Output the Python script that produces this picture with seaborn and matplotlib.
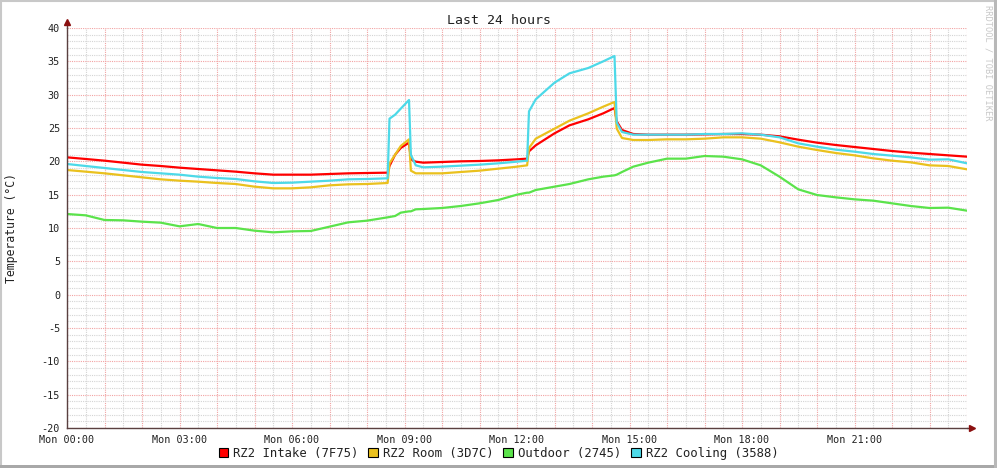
import matplotlib
matplotlib.use("Agg")
import matplotlib.pyplot as plt
from matplotlib.patches import Patch, Rectangle
from matplotlib.ticker import MultipleLocator, FuncFormatter
import pandas as pd
import seaborn as sns

# ── Data (hours since Mon 00:00, temperatures in °C) ─────────────────────
hours = [0, 0.5, 1, 1.5, 2, 2.5, 3, 3.5, 4, 4.5, 5, 5.5, 6, 6.5, 7, 7.5, 8,
         8.55, 8.6, 8.75, 8.9, 9.12, 9.17, 9.3, 9.5, 10, 10.5, 11, 11.5, 12,
         12.27, 12.32, 12.5, 13, 13.4, 13.9, 14.3, 14.6, 14.66, 14.8, 15.1,
         15.5, 16, 16.5, 17, 17.5, 18, 18.5, 19, 19.5, 20, 20.5, 21, 21.5,
         22, 22.5, 23, 23.5, 24]

intake = [20.6, 20.35, 20.1, 19.8, 19.5, 19.3, 19.05, 18.85, 18.65, 18.45,
          18.2, 18.0, 18.0, 18.0, 18.1, 18.2, 18.25,
          18.3, 19.3, 21.0, 22.0, 22.8, 20.3, 19.95, 19.8, 19.9, 20.0, 20.05,
          20.15, 20.3,
          20.4, 21.5, 22.4, 24.2, 25.4, 26.3, 27.2, 28.0, 26.0, 24.7, 24.1,
          24.0, 24.0, 24.0, 24.05, 24.1, 24.1, 24.0, 23.75, 23.25, 22.8, 22.45,
          22.15, 21.85, 21.55, 21.3, 21.1, 20.9, 20.7]

room = [18.7, 18.45, 18.2, 17.9, 17.6, 17.3, 17.1, 16.95, 16.75, 16.6,
        16.2, 15.95, 15.95, 16.1, 16.4, 16.55, 16.6,
        16.75, 19.7, 21.0, 22.3, 23.3, 18.6, 18.2, 18.2, 18.2, 18.4, 18.6,
        18.9, 19.2,
        19.4, 22.0, 23.4, 24.9, 26.1, 27.2, 28.2, 28.9, 24.9, 23.5, 23.2,
        23.2, 23.3, 23.3, 23.4, 23.6, 23.6, 23.4, 22.85, 22.2, 21.7, 21.25,
        20.9, 20.45, 20.1, 19.85, 19.4, 19.3, 18.8]

outdoor = [12.1, 11.9, 11.2, 11.15, 10.95, 10.8, 10.25, 10.6, 10.0, 10.0,
           9.6, 9.35, 9.5, 9.55, 10.2, 10.85, 11.1,
           11.6, 11.65, 11.8, 12.3, 12.5, 12.5, 12.8, 12.85, 13.0, 13.3, 13.7,
           14.2, 15.0,
           15.3, 15.3, 15.7, 16.2, 16.6, 17.3, 17.7, 17.9, 18.0, 18.4, 19.2,
           19.8, 20.4, 20.4, 20.8, 20.7, 20.3, 19.4, 17.7, 15.8, 14.95, 14.6,
           14.3, 14.1, 13.7, 13.3, 13.0, 13.05, 12.6]

cooling = [19.6, 19.3, 19.0, 18.7, 18.4, 18.2, 18.0, 17.7, 17.5, 17.35,
           17.0, 16.75, 16.8, 16.95, 17.1, 17.3, 17.35,
           17.45, 26.4, 27.0, 27.9, 29.2, 21.0, 19.4, 19.1, 19.2, 19.35, 19.5,
           19.7, 19.95,
           20.1, 27.5, 29.3, 31.8, 33.2, 34.0, 35.0, 35.8, 25.8, 24.4, 24.0,
           24.0, 24.0, 24.0, 24.1, 24.1, 24.2, 24.0, 23.6, 22.7, 22.2, 21.75,
           21.45, 21.1, 20.85, 20.6, 20.25, 20.3, 19.7]

series_names = ["RZ2 Intake (7F75)", "RZ2 Room (3D7C)",
                "Outdoor (2745)", "RZ2 Cooling (3588)"]
series_colors = ["#FF0000", "#EAC11E", "#5BE34B", "#4DD9E8"]

# ── Style ─────────────────────────────────────────────────────────────────
sns.set_style("white")
plt.rcParams["font.family"] = ["DejaVu Sans Mono"]
plt.rcParams["axes.unicode_minus"] = False

df = pd.DataFrame({"hour": hours,
                   series_names[0]: intake, series_names[1]: room,
                   series_names[2]: outdoor, series_names[3]: cooling})
long_df = df.melt(id_vars="hour", var_name="series", value_name="temp")

fig = plt.figure(figsize=(9.97, 4.68), dpi=100)
fig.patch.set_facecolor("white")
ax = fig.add_axes([67/997, 40/468, 900/997, 400/468])

sns.lineplot(data=long_df, x="hour", y="temp", hue="series",
             hue_order=series_names, palette=series_colors,
             estimator=None, sort=False, lw=1.6, legend=False, ax=ax)

ax.set_xlim(0, 24)
ax.set_ylim(-20, 40)

# grid: red major, grey minor, both dotted
ax.xaxis.set_major_locator(MultipleLocator(1))
ax.xaxis.set_minor_locator(MultipleLocator(0.5))
ax.yaxis.set_major_locator(MultipleLocator(5))
ax.yaxis.set_minor_locator(MultipleLocator(1))
ax.xaxis.set_major_formatter(FuncFormatter(
    lambda v, p: f"Mon {int(round(v)):02d}:00" if round(v) % 3 == 0 and v < 23.5 else ""))
ax.yaxis.set_major_formatter(FuncFormatter(lambda v, p: f"{v:g}"))
ax.grid(which="minor", color="#d4d4d4", ls=(0, (1, 1)), lw=0.8)
ax.grid(which="major", color="#f2a3a3", ls=(0, (1, 1)), lw=0.8)
ax.set_axisbelow(True)

ax.tick_params(which="major", length=2, width=0.8, color="#7a5a5a",
               labelsize=7.3, labelcolor="#222222", pad=3)
ax.tick_params(which="minor", length=0)
ax.set_xlabel("")
ax.set_ylabel("")
for s in ["top", "right"]:
    ax.spines[s].set_visible(False)
for s in ["left", "bottom"]:
    ax.spines[s].set_color("#5a4040")
    ax.spines[s].set_linewidth(1.0)

# axis extensions with arrow heads
ax.plot([1, 1.006], [0, 0], color="#5a4040", lw=1.0, transform=ax.transAxes, clip_on=False)
ax.plot([0, 0], [1, 1.014], color="#5a4040", lw=1.0, transform=ax.transAxes, clip_on=False)
ax.plot([1.006], [0], marker=">", ms=4, color="#8b1010", transform=ax.transAxes, clip_on=False)
ax.plot([0], [1.014], marker="^", ms=4, color="#8b1010", transform=ax.transAxes, clip_on=False)

# texts
fig.text(0.5, 1 - 20/468, "Last 24 hours", ha="center", va="center",
         fontsize=9.5, color="#222222")
fig.text(11/997, 1 - 228/468, "Temperature (°C)", rotation=90,
         ha="center", va="center", fontsize=8.3, color="#222222")
fig.text(988/997, 1 - 5/468, "RRDTOOL / TOBI OETIKER", rotation=270,
         ha="center", va="top", fontsize=6.2, color="#c8c8c8")

# legend
handles = [Patch(facecolor=c, edgecolor="black", lw=0.8) for c in series_colors]
fig.legend(handles, series_names, loc="center", bbox_to_anchor=(0.5, 15/468),
           ncol=4, frameon=False, handlelength=0.8, handleheight=0.8,
           handletextpad=0.4, columnspacing=0.8, fontsize=8.8,
           labelcolor="#222222")

# image frame
fig.patches.append(Rectangle((0.001, 0.003), 0.997, 0.995, transform=fig.transFigure,
                             fill=False, edgecolor="#c8c8c8", lw=1.5))
fig.patches.append(Rectangle((0, 0), 1, 3/468, transform=fig.transFigure,
                             facecolor="#a8a8a8", edgecolor="none"))
fig.patches.append(Rectangle((1 - 3/997, 0), 3/997, 1, transform=fig.transFigure,
                             facecolor="#b8b8b8", edgecolor="none"))

fig.savefig("out.png", dpi=100)
plt.close(fig)
